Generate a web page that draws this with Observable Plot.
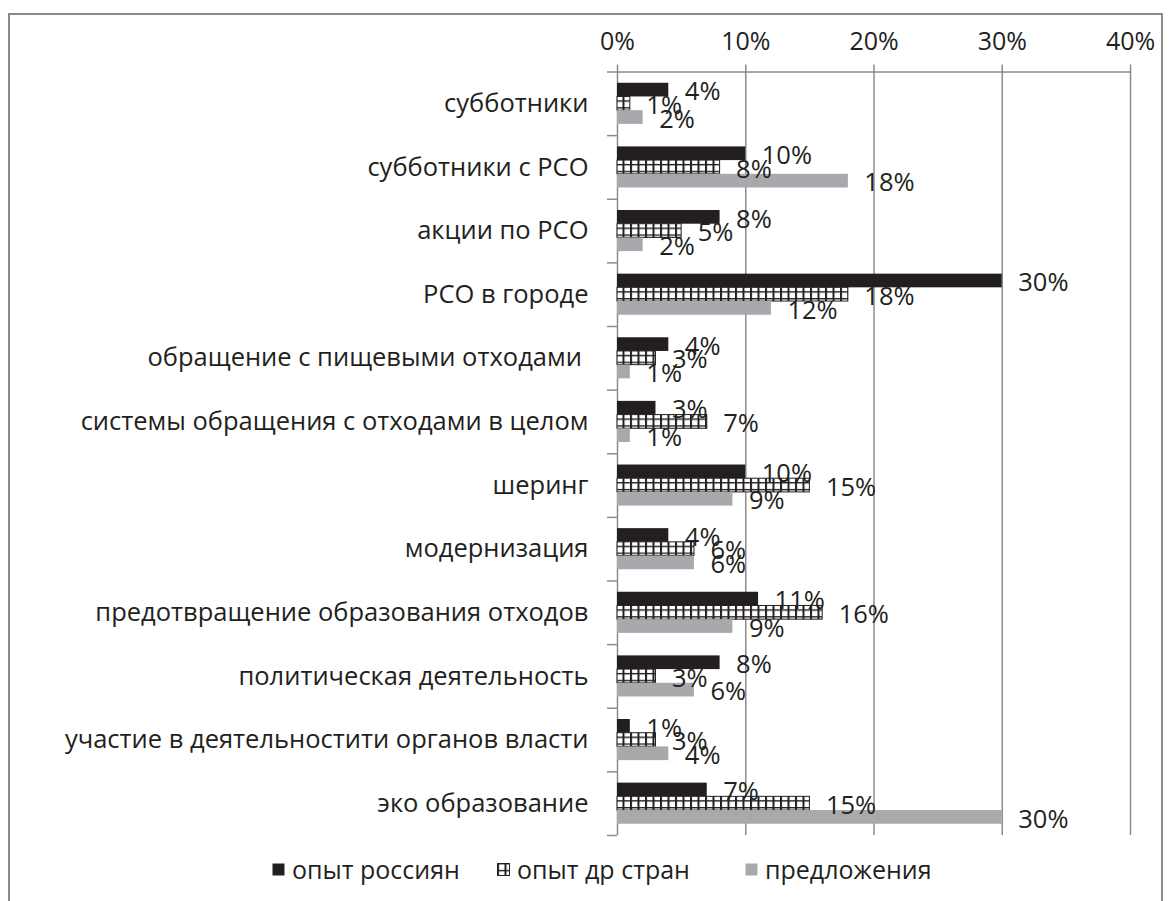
<!DOCTYPE html>
<html>
<head>
<meta charset="utf-8">
<script src="https://cdn.jsdelivr.net/npm/d3@7"></script>
<script src="https://cdn.jsdelivr.net/npm/@observablehq/plot@0.6"></script>
<style>
  html, body { margin: 0; padding: 0; background: #fff; }
  body { width: 1170px; height: 901px; position: relative; overflow: hidden; font-family: "Open Sans", sans-serif; color: #231f20; }
  #frame { position: absolute; left: 8px; top: 13px; width: 1155px; height: 1000px; border: 2px solid #8a8a8a; box-sizing: border-box; }
  .layer { position: absolute; left: 0; top: 0; }
  #legend { position: absolute; top: 852px; left: 0; width: 1170px; height: 36px; font-size: 25px; }
  .item { position: absolute; top: 0; display: flex; align-items: center; white-space: nowrap; }
  .item:nth-child(1) { left: 272px; }
  .item:nth-child(2) { left: 497px; }
  .item:nth-child(3) { left: 745px; }
  .item svg { margin-right: 7px; }
</style>
</head>
<body>
<svg width="0" height="0" style="position:absolute">
  <defs>
    <pattern id="grid" patternUnits="userSpaceOnUse" width="7.5" height="6.85">
      <rect width="7.5" height="6.85" fill="#ffffff"></rect>
      <rect x="0" y="0" width="2" height="6.85" fill="#231f20"></rect>
      <rect x="0" y="0" width="7.5" height="1.4" fill="#231f20"></rect>
    </pattern>
  </defs>
</svg>
<div id="frame"></div>
<div id="chart"></div>
<div id="legend"></div>
<script>
const categories = [
  "субботники",
  "субботники с РСО",
  "акции по РСО",
  "РСО в городе",
  "обращение с пищевыми отходами\u00a0",
  "системы обращения с отходами в целом",
  "шеринг",
  "модернизация",
  "предотвращение образования отходов",
  "политическая деятельность",
  "участие в деятельностити органов власти",
  "эко образование"
];
const series = ["опыт россиян", "опыт др стран", "предложения"];
const russian   = [4, 10, 8, 30, 4, 3, 10, 4, 11, 8, 1, 7];
const abroad    = [1, 8, 5, 18, 3, 7, 15, 6, 16, 3, 3, 15];
const proposals = [2, 18, 2, 12, 1, 1, 9, 6, 9, 6, 4, 30];
const xTicks = [0, 10, 20, 30, 40];

const seriesValues = [russian, abroad, proposals];
const seriesFill = ["#231f20", "url(#grid)", "#a7a9ac"];
const seriesStroke = ["none", "#231f20", "none"];

const data = categories.flatMap((cat, i) =>
  series.map((s, j) => ({cat, series: s, value: seriesValues[j][i]}))
);

const W = 1170, H = 845;
const M = {marginLeft: 617, marginRight: 40, marginTop: 71.5, marginBottom: 10};
const grey = "#8c8c8c";
const ink = "#231f20";
const n = categories.length;

// Layer 1: axes and grid
const back = Plot.plot({
  width: W, height: H, ...M,
  style: {fontFamily: "Open Sans", background: "transparent", color: ink, overflow: "visible"},
  x: {domain: [0, 40]},
  y: {domain: [0, n], reverse: true},
  marks: [
    Plot.ruleX(xTicks.slice(1), {stroke: grey, strokeWidth: 1.5}),
    Plot.axisX(xTicks, {anchor: "top", tickSize: 8, tickPadding: 14, tickFormat: d => d + "%", fontSize: 25, stroke: grey, fill: ink, strokeWidth: 1.5, label: null}),
    Plot.axisY(d3.range(n + 1), {anchor: "left", tickSize: 10, tickFormat: () => "", stroke: grey, strokeWidth: 1.5, label: null}),
    Plot.axisY(d3.range(n).map(i => i + 0.5), {anchor: "left", tickSize: 0, tickPadding: 29, tickFormat: v => categories[Math.floor(v)], fontSize: 25.5, fill: ink, label: null}),
    Plot.ruleX([0], {stroke: grey, strokeWidth: 1.5}),
    Plot.ruleY([0], {stroke: grey, strokeWidth: 1.5})
  ]
});
back.classList.add("layer");

// Layer 2: bars and value labels, faceted by category
const front = Plot.plot({
  width: W, height: H, ...M,
  style: {fontFamily: "Open Sans", background: "transparent", color: ink, overflow: "visible"},
  facet: {data, y: "cat"},
  fy: {domain: categories, axis: null, label: null, paddingInner: 0.354, paddingOuter: 0.177, round: false},
  x: {domain: [0, 40], axis: null},
  y: {domain: series, axis: null, padding: 0, round: false},
  marks: [
    ...series.map((s, j) => Plot.barX(data, {
      filter: d => d.series === s,
      y: "series", x: "value",
      fill: seriesFill[j], stroke: seriesStroke[j], strokeWidth: 1
    })),
    Plot.text(data, {
      y: "series", x: "value", text: d => d.value + "%",
      dx: 16, dy: 2, textAnchor: "start", fontSize: 25.5, fill: ink
    })
  ]
});
front.classList.add("layer");

const chart = document.getElementById("chart");
chart.appendChild(back);
chart.appendChild(front);

// Legend
const legend = document.getElementById("legend");
series.forEach((s, j) => {
  const item = document.createElement("div");
  item.className = "item";
  const sw = `<svg width="13" height="13"><rect x="0.5" y="0.5" width="12" height="12" fill="${seriesFill[j]}" stroke="${seriesStroke[j]}"></rect></svg>`;
  item.innerHTML = sw + `<span>${s}</span>`;
  legend.appendChild(item);
});
</script>
</body>
</html>
